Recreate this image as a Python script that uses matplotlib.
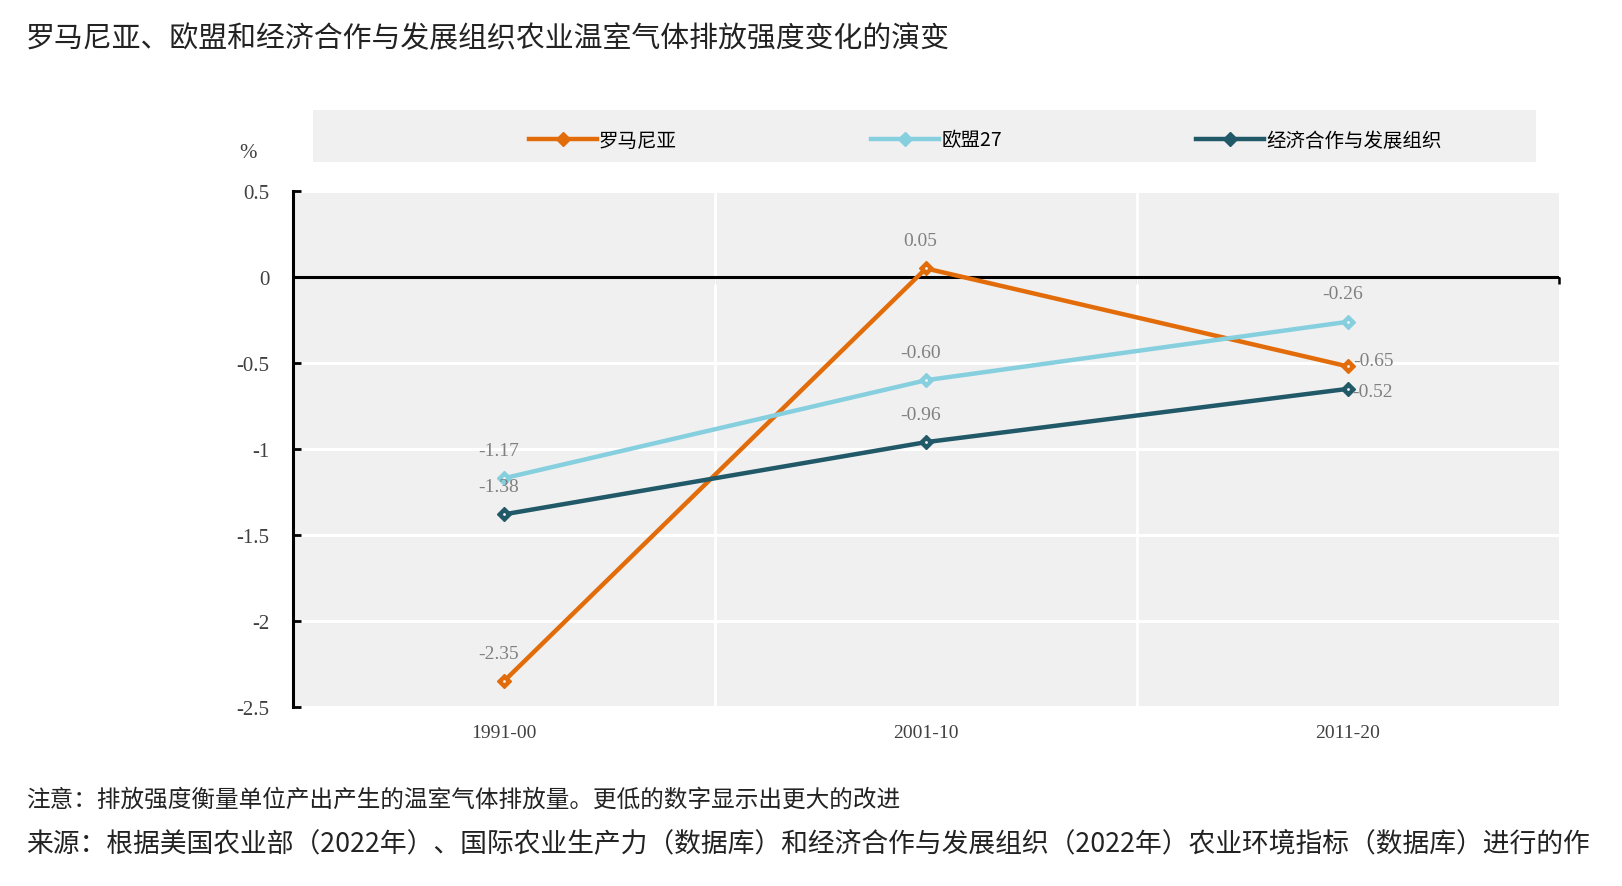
import numpy as np
import matplotlib
matplotlib.use("Agg")
import matplotlib.pyplot as plt
from matplotlib.patches import Rectangle
from matplotlib.ticker import FixedLocator, FixedFormatter

plt.rcParams['font.family'] = ['Noto Sans CJK SC', 'DejaVu Sans']

# --- data ---
periods = ["1991-00", "2001-10", "2011-20"]
romania = [-2.35, 0.05, -0.52]
eu27 = [-1.17, -0.60, -0.26]
oecd = [-1.38, -0.96, -0.65]
# labels as printed in the source chart (last two are swapped there)
romania_labels = ["-2.35", "0.05", "-0.65"]
eu27_labels = ["-1.17", "-0.60", "-0.26"]
oecd_labels = ["-1.38", "-0.96", "-0.52"]
series_names = ["罗马尼亚", "欧盟27", "经济合作与发展组织"]
y_ticks = [0.5, 0, -0.5, -1, -1.5, -2, -2.5]
y_tick_labels = ["0.5", "0", "-0.5", "-1", "-1.5", "-2", "-2.5"]

title = "罗马尼亚、欧盟和经济合作与发展组织农业温室气体排放强度变化的演变"
note = "注意：排放强度衡量单位产出产生的温室气体排放量。更低的数字显示出更大的改进"
source = "来源：根据美国农业部（2022年）、国际农业生产力（数据库）和经济合作与发展组织（2022年）农业环境指标（数据库）进行的作"

colors = ["#E36C0A", "#86CFDF", "#215968"]
bg = "#F0F0F0"
num_font = ["Liberation Serif", "DejaVu Serif"]

fig = plt.figure(figsize=(16.22, 8.87), dpi=100)
ax = fig.add_axes([0.1806, 0.2018, 0.7806, 0.5817])
ax.set_facecolor(bg)

x = np.arange(len(periods))
ymin, ymax = -2.5, 0.5
ax.set_xlim(-0.5, 2.5)
ax.set_ylim(ymin, ymax)

# grid
ax.yaxis.set_major_locator(FixedLocator(y_ticks))
ax.yaxis.set_major_formatter(FixedFormatter(y_tick_labels))
ax.grid(axis='y', color='white', lw=2.2, zorder=0)
ax.xaxis.set_minor_locator(FixedLocator([0.5, 1.5]))
ax.grid(axis='x', which='minor', color='white', lw=2, zorder=0)
ax.set_axisbelow(True)

for s in ['top', 'right', 'bottom']:
    ax.spines[s].set_visible(False)
ax.spines['left'].set_linewidth(2.2)
ax.tick_params(axis='y', direction='in', length=6, width=2, pad=17,
               labelsize=15, labelcolor='#404040')
for lab in ax.get_yticklabels():
    lab.set_fontfamily(num_font)

ax.set_xticks(x)
ax.set_xticklabels(periods, fontsize=14, color='#404040', fontfamily=num_font)
ax.tick_params(axis='x', which='both', length=0, pad=12)

# zero axis with upward ticks at category boundaries
ax.axhline(0, color='black', lw=2.2, zorder=2)
zloc = (0 - ymin) / (ymax - ymin)
sec = ax.secondary_xaxis(zloc)
sec.spines['bottom'].set_visible(False)
sec.set_xticks([0.5, 1.5, 2.5])
sec.set_xticklabels([])
sec.tick_params(direction='in', length=5, width=1.8)

handles = []
for vals, c, name in zip([romania, eu27, oecd], colors, series_names):
    h, = ax.plot(x, vals, color=c, lw=3.2, marker='D', ms=7,
                 mfc=c, mec=c, label=name, zorder=3)
    ax.plot(x, vals, ls='none', marker='.', ms=2, color='#f4f4f4', zorder=4)
    handles.append(h)

# data labels
label_offsets = {
    0: [(-4, 20), (-4, 20), (18, 4)],
    1: [(-4, 20), (-4, 20), (-4, 20)],
    2: [(-4, 20), (-4, 20), (18, -2)],
}
for i, (vals, labs) in enumerate(zip([romania, eu27, oecd],
                                     [romania_labels, eu27_labels, oecd_labels])):
    for j, (v, t) in enumerate(zip(vals, labs)):
        ax.annotate(t, (x[j], v), xytext=label_offsets[i][j],
                    textcoords='offset points', ha='center', va='center',
                    fontsize=14, color='#808080', fontfamily=num_font, zorder=5)

# legend band
fig.patches.append(Rectangle((0.193, 0.8162), 0.754, 0.0586,
                             transform=fig.transFigure, facecolor=bg,
                             edgecolor='none', zorder=0))
fig.legend(handles=handles, loc='center', bbox_to_anchor=(0.6075, 0.841),
           ncol=3, frameon=False, fontsize=14, handlelength=3.5,
           handletextpad=0.1, columnspacing=10.0)

fig.text(0.153, 0.827, "%", fontsize=15, color='#404040', ha='center',
         va='center', fontfamily=num_font)

fig.text(0.016, 0.956, title, fontsize=20.8, color='#222222', va='center')
fig.text(0.016, 0.098, note, fontsize=17, color='#222222', va='center')
fig.text(0.016, 0.049, source, fontsize=19.3, color='#222222', va='center')

fig.savefig("out.png", dpi=100)
